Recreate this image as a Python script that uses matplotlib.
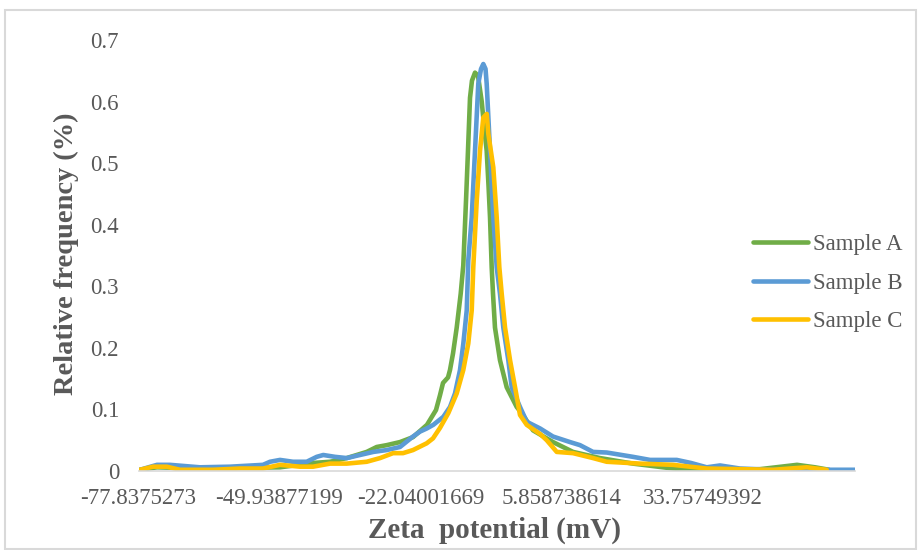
import matplotlib
matplotlib.use("Agg")
import matplotlib.pyplot as plt
from matplotlib.patches import Rectangle

plt.rcParams['font.family'] = ['Liberation Serif', 'DejaVu Serif']

# ---- data (zeta potential in mV, relative frequency in %) ----
x_a = [-77.54, -74.18, -69.63, -59.73, -49.84, -43.31, -39.95, -36.64, -32.69, -30.71,
       -28.73, -26.10, -23.53, -20.76, -18.98, -18.19, -17.59, -16.60, -16.21, -15.61,
       -14.88, -14.09, -13.58, -13.04, -12.65, -12.25, -11.86, -11.26, -10.67, -9.93,
       -9.48, -8.95, -8.59, -8.29, -7.96, -7.70, -7.31, -6.32, -4.99, -3.01,
       -2.02, 0.22, 4.17, 8.13, 13.47, 20.00, 27.91, 35.83, 45.13, 52.45,
       56.01, 58.78]
y_a = [0.002, 0.006, 0.005, 0.005, 0.006, 0.013, 0.015, 0.021, 0.031, 0.039,
       0.042, 0.047, 0.055, 0.075, 0.099, 0.123, 0.143, 0.152, 0.164, 0.191,
       0.233, 0.288, 0.334, 0.439, 0.520, 0.606, 0.634, 0.647, 0.642, 0.600,
       0.561, 0.520, 0.464, 0.412, 0.331, 0.288, 0.233, 0.180, 0.136, 0.104,
       0.094, 0.066, 0.047, 0.031, 0.021, 0.012, 0.004, 0.000, 0.003, 0.010,
       0.006, 0.002]

x_b = [-77.54, -74.18, -71.61, -65.67, -59.73, -53.21, -51.82, -49.84, -47.27, -44.56,
       -42.58, -41.28, -38.96, -36.64, -34.02, -31.38, -28.73, -26.10, -23.53, -22.14,
       -20.82, -19.51, -17.53, -16.21, -15.22, -14.23, -13.57, -12.90, -12.59, -11.91,
       -11.26, -10.61, -10.07, -9.62, -9.18, -8.95, -8.29, -7.64, -6.97, -6.32,
       -5.66, -4.67, -4.00, -2.36, -1.03, 1.63, 4.17, 7.53, 9.51, 12.09,
       14.80, 20.00, 23.37, 28.65, 31.49, 34.58, 37.22, 41.17, 47.70, 58.33,
       63.92]
y_b = [0.002, 0.010, 0.010, 0.006, 0.007, 0.010, 0.015, 0.018, 0.015, 0.015,
       0.023, 0.026, 0.023, 0.021, 0.026, 0.031, 0.034, 0.039, 0.056, 0.064,
       0.069, 0.075, 0.088, 0.104, 0.126, 0.164, 0.207, 0.261, 0.342, 0.412,
       0.520, 0.629, 0.653, 0.661, 0.653, 0.629, 0.520, 0.412, 0.331, 0.288,
       0.233, 0.180, 0.136, 0.104, 0.080, 0.069, 0.056, 0.047, 0.042, 0.031,
       0.030, 0.023, 0.018, 0.018, 0.013, 0.006, 0.009, 0.004, 0.002, 0.002,
       0.002]

x_c = [-77.54, -74.97, -72.26, -69.63, -63.10, -57.76, -53.21, -49.84, -45.88, -43.31,
       -39.95, -36.64, -32.69, -30.04, -27.48, -25.50, -23.53, -20.82, -19.57, -18.19,
       -16.54, -14.88, -13.58, -12.59, -11.91, -11.60, -10.92, -10.27, -9.62, -8.94,
       -8.63, -7.64, -6.97, -6.45, -5.98, -5.32, -4.33, -3.34, -2.36, -1.03,
       1.63, 2.93, 4.91, 8.13, 12.09, 14.80, 21.39, 27.91, 34.58, 47.70,
       54.37, 58.33]
y_c = [0.002, 0.007, 0.007, 0.002, 0.002, 0.004, 0.004, 0.010, 0.007, 0.007,
       0.012, 0.012, 0.015, 0.021, 0.029, 0.029, 0.034, 0.045, 0.053, 0.070,
       0.094, 0.126, 0.164, 0.207, 0.261, 0.331, 0.439, 0.520, 0.574, 0.580,
       0.548, 0.493, 0.412, 0.331, 0.288, 0.233, 0.180, 0.136, 0.091, 0.075,
       0.060, 0.050, 0.031, 0.029, 0.021, 0.015, 0.012, 0.010, 0.004, 0.002,
       0.006, 0.002]

series_names = ['Sample A', 'Sample B', 'Sample C']
series_colors = ['#70AD47', '#5B9BD5', '#FFC000']

tick_values = [-77.8375273, -49.93877199, -22.04001669, 5.858738614, 33.75749392]
tick_labels = ['-77.8375273', '-49.93877199', '-22.04001669', '5.858738614', '33.75749392']
y_ticks = [0, 0.1, 0.2, 0.3, 0.4, 0.5, 0.6, 0.7]
y_tick_labels = ['0', '0.1', '0.2', '0.3', '0.4', '0.5', '0.6', '0.7']

W, H = 918, 550
fig = plt.figure(figsize=(W / 100, H / 100), dpi=100)
fig.patch.set_facecolor('white')

# outer chart border
fig.add_artist(Rectangle((5 / W, 1 / H), 911 / W, (H - 11) / H, transform=fig.transFigure,
                         fill=False, edgecolor='#D9D9D9', linewidth=1.5))

left, right = 138.5, 855
bottom, top = 471, 40
ax = fig.add_axes([left / W, 1 - bottom / H, (right - left) / W, (bottom - top) / H])

for xs, ys, name, col in zip([x_a, x_b, x_c], [y_a, y_b, y_c], series_names, series_colors):
    ax.plot(xs, ys, color=col, lw=3.3, label=name,
            solid_joinstyle='round', solid_capstyle='round')

ax.set_xlim(tick_values[0], 63.92)
ax.set_ylim(0, 0.7)

ax.set_xticks(tick_values)
ax.set_xticklabels(tick_labels)
ax.set_yticks(y_ticks)
ax.set_yticklabels(y_tick_labels)
ax.tick_params(axis='both', length=0, labelsize=16.5, labelcolor='#595959')
ax.tick_params(axis='y', pad=14)
ax.tick_params(axis='x', pad=12)

for s in ['top', 'right', 'left']:
    ax.spines[s].set_visible(False)
ax.spines['bottom'].set_color('#D9D9D9')
ax.spines['bottom'].set_linewidth(1.2)

fig.text(495 / W, 1 - 530 / H, 'Zeta  potential (mV)', ha='center', va='center',
         fontsize=21, fontweight='bold', color='#595959')
fig.text(66 / W, 1 - 254 / H, 'Relative frequency (%)', ha='center', va='center',
         rotation=90, fontsize=20.5, fontweight='bold', color='#595959')

leg = ax.legend(loc='center left', bbox_to_anchor=(753 / W, 1 - 283 / H),
                bbox_transform=fig.transFigure, frameon=False, fontsize=16.5,
                handlelength=2.4, handletextpad=0.2, labelspacing=0.75,
                borderpad=0, borderaxespad=0)
for t in leg.get_texts():
    t.set_color('#595959')

fig.savefig('out.png', dpi=100)
